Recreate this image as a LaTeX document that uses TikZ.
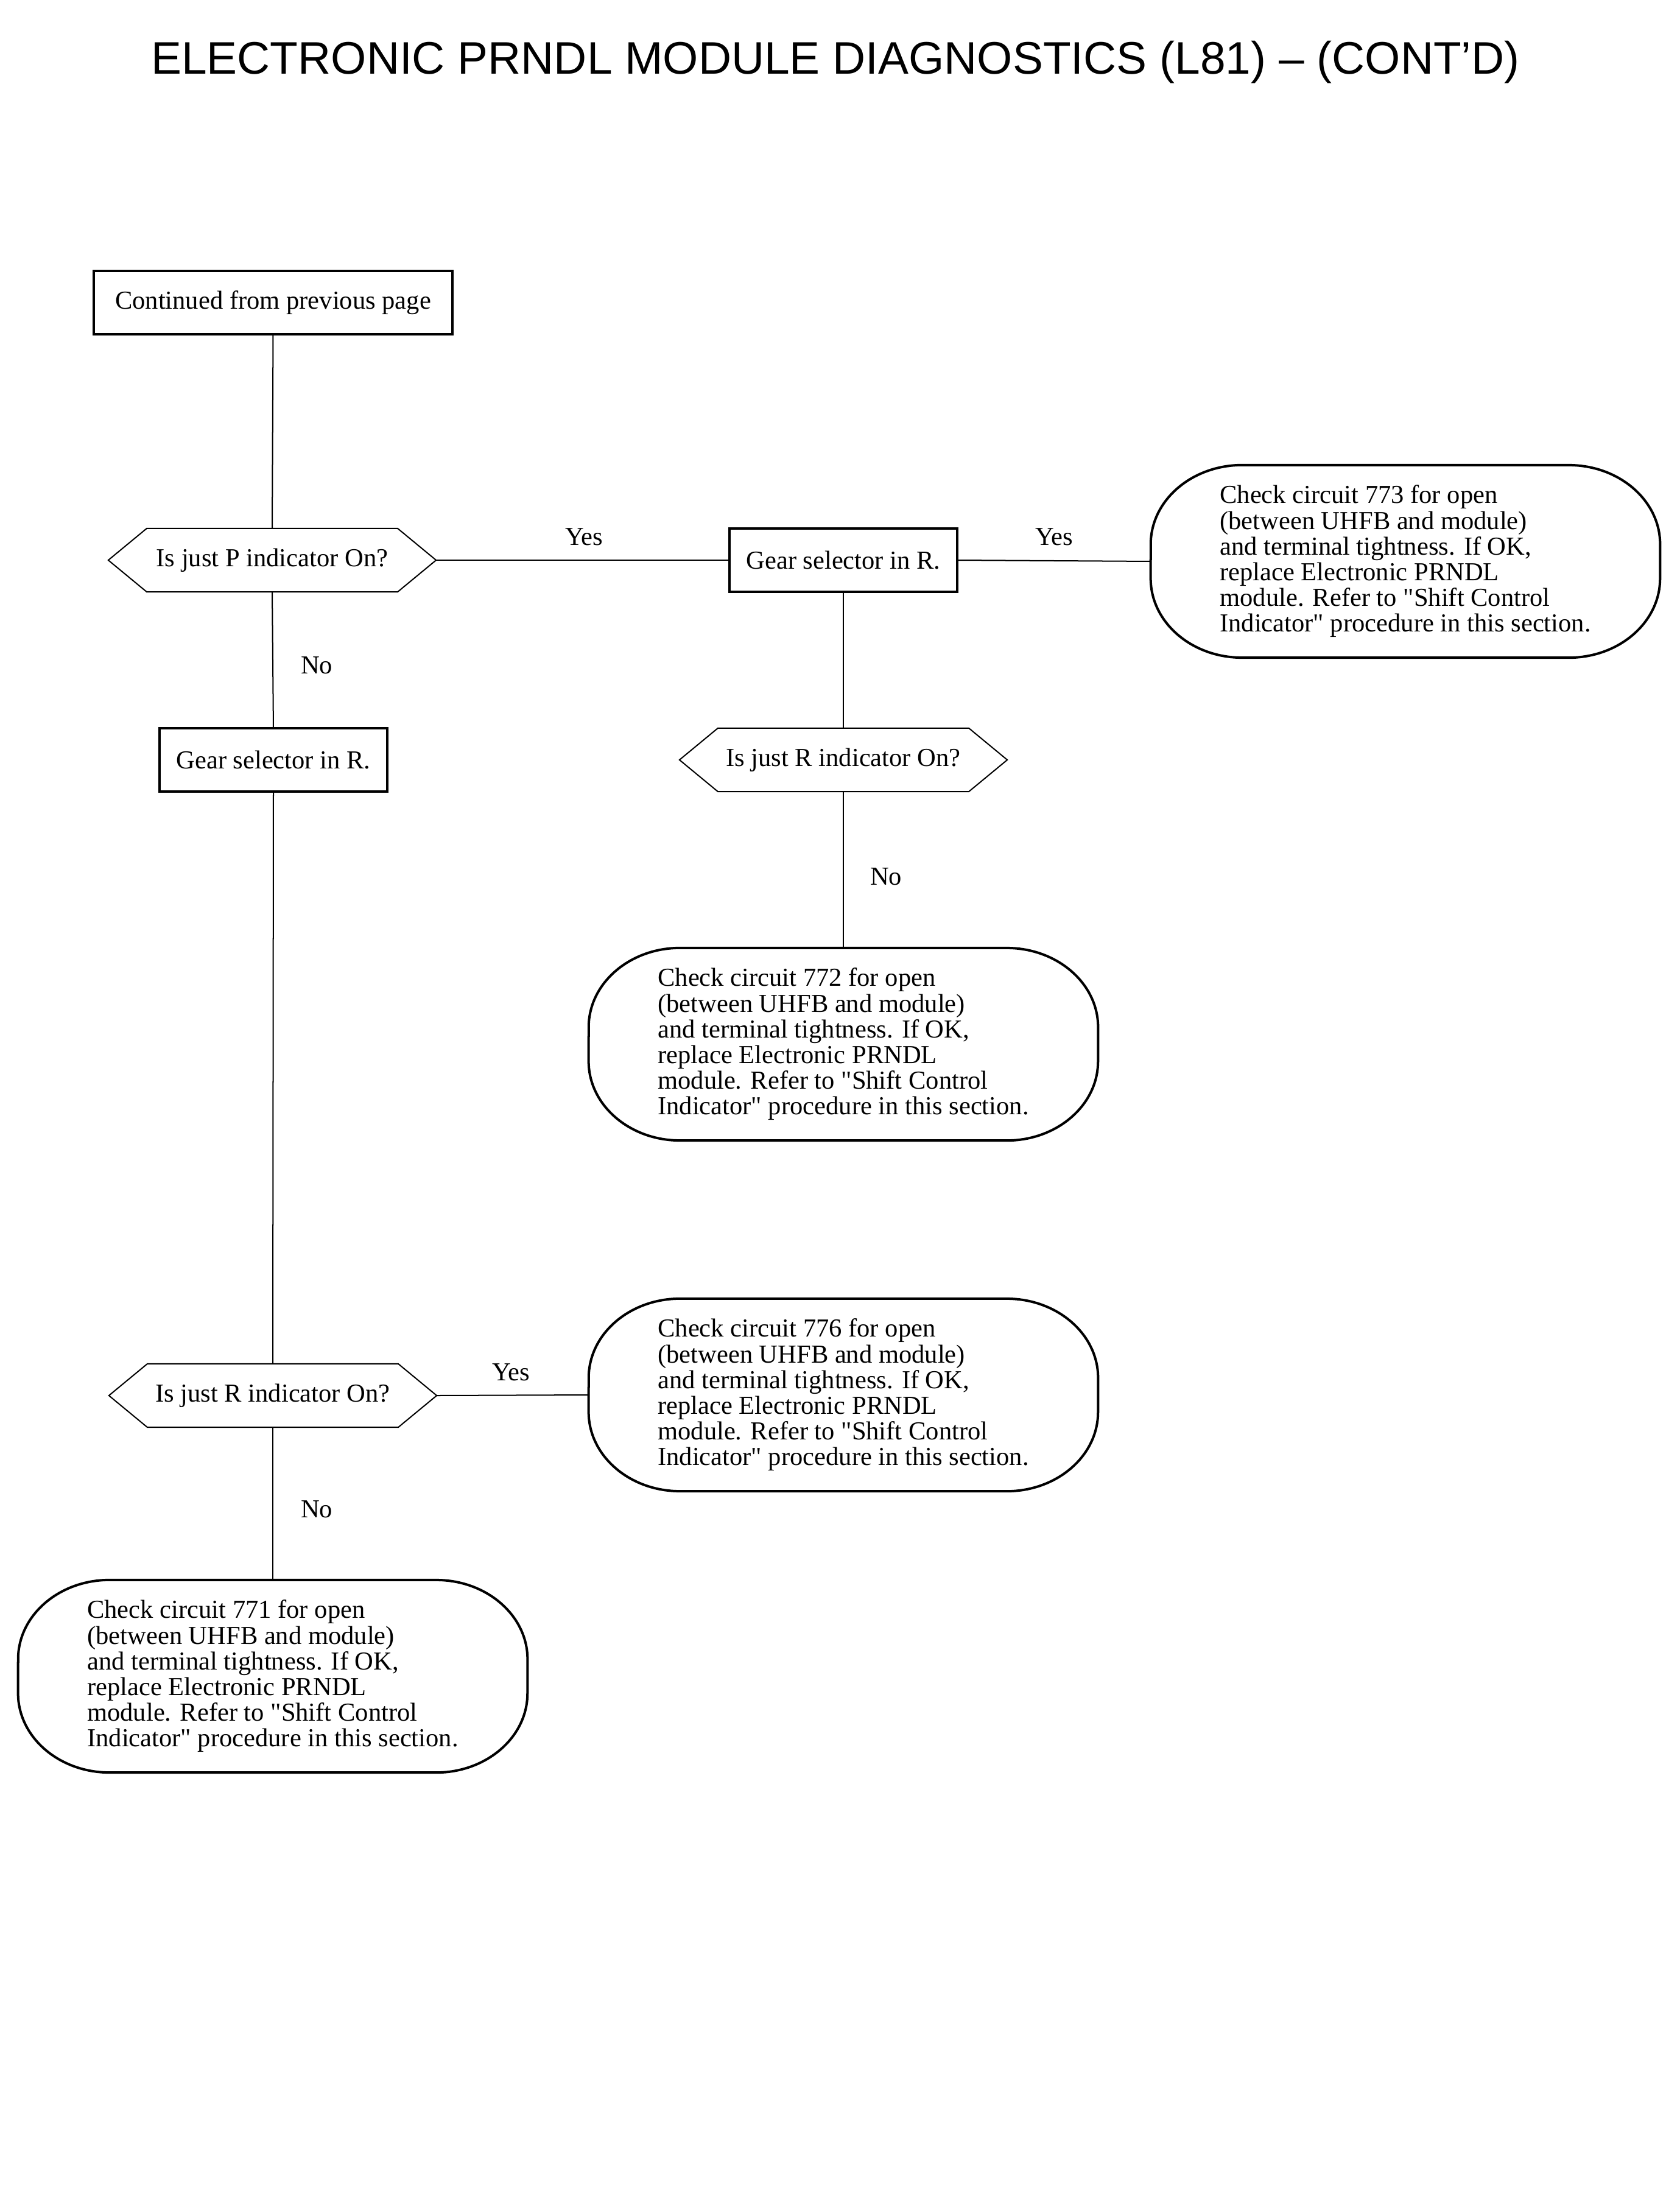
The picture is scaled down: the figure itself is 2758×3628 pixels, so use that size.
\documentclass[tikz,border=0pt]{standalone}
\usepackage{fontspec}
\setmainfont{Liberation Serif}[Ligatures=TeXOff]
\newfontfamily\titlefont{Liberation Sans}[Ligatures=TeXOff]
\usetikzlibrary{calc}
\newcommand{\bodyfnt}{\fontsize{12.1}{12}\selectfont}
\newcommand{\hexout}[1]{\draw[thinline] (#1.west) -- ($(#1.north west)+(63,0)$) -- ($(#1.north east)+(-63,0)$) -- (#1.east) -- ($(#1.south east)+(-63,0)$) -- ($(#1.south west)+(63,0)$) -- cycle;}
\newcommand{\termout}[1]{\draw[thickline] ($(#1.north west)+(150,0)$) -- ($(#1.north east)+(-150,0)$) arc[start angle=90,end angle=0,x radius=1.5cm,y radius=1.3cm] -- ($(#1.south east)+(0,130)$) arc[start angle=0,end angle=-90,x radius=1.5cm,y radius=1.3cm] -- ($(#1.south west)+(150,0)$) arc[start angle=270,end angle=180,x radius=1.5cm,y radius=1.3cm] -- ($(#1.north west)+(0,-130)$) arc[start angle=180,end angle=90,x radius=1.5cm,y radius=1.3cm] -- cycle;}
\begin{document}
\begin{tikzpicture}[x=0.01cm,y=0.01cm,
  thickline/.style={line width=0.04cm},
  thinline/.style={line width=0.02cm},
  conn/.style={line width=0.02cm},
  boxnode/.style={draw,thickline,inner sep=0,outer sep=0,minimum height=1.03cm,font=\bodyfnt},
  hexnode/.style={inner sep=0,outer sep=0,minimum width=5.38cm,minimum height=1.04cm,font=\bodyfnt},
  termnode/.style={inner sep=0,outer sep=0,minimum width=8.36cm,minimum height=3.16cm,align=left,font=\bodyfnt},
  lbl/.style={anchor=base,inner sep=0,font=\bodyfnt}]
\useasboundingbox (0,0) rectangle (2758,-3628);
\fill[white] (0,0) rectangle (2758,-3628);
\node[anchor=base,inner sep=0,font=\titlefont\fontsize{21.3}{24}\selectfont] (title) at (1372,-122) {ELECTRONIC PRNDL MODULE DIAGNOSTICS (L81) – (CONT’D)};
% nodes
\node[boxnode,minimum width=5.89cm,minimum height=1.04cm] (cont) at (448.5,-497) {Continued from previous page};
\node[hexnode] (h1) at (447,-920) {Is just P indicator On?};
\hexout{h1}
\node[boxnode,minimum width=3.74cm] (g2) at (1385,-920) {Gear selector in R.};
\node[termnode] (t773) at (2308,-922) {Check circuit 773 for open\\(between UHFB and module)\\and terminal tightness. If OK,\\replace Electronic PRNDL\\module. Refer to "Shift Control\\Indicator" procedure in this section.};
\termout{t773}
\node[boxnode,minimum width=3.74cm] (g1) at (449,-1248) {Gear selector in R.};
\node[hexnode] (h2) at (1385,-1248) {Is just R indicator On?};
\hexout{h2}
\node[termnode] (t772) at (1385,-1715) {Check circuit 772 for open\\(between UHFB and module)\\and terminal tightness. If OK,\\replace Electronic PRNDL\\module. Refer to "Shift Control\\Indicator" procedure in this section.};
\termout{t772}
\node[hexnode] (h3) at (448,-2292) {Is just R indicator On?};
\hexout{h3}
\node[termnode] (t776) at (1385,-2291) {Check circuit 776 for open\\(between UHFB and module)\\and terminal tightness. If OK,\\replace Electronic PRNDL\\module. Refer to "Shift Control\\Indicator" procedure in this section.};
\termout{t776}
\node[termnode] (t771) at (448,-2753) {Check circuit 771 for open\\(between UHFB and module)\\and terminal tightness. If OK,\\replace Electronic PRNDL\\module. Refer to "Shift Control\\Indicator" procedure in this section.};
\termout{t771}
% connectors
\draw[conn] (cont.south) -- (h1.north);
\draw[conn] (h1.east) -- (g2.west);
\draw[conn] (g2.east) -- (t773.west);
\draw[conn] (g2.south) -- (h2.north);
\draw[conn] (h2.south) -- (t772.north);
\draw[conn] (h1.south) -- (g1.north);
\draw[conn] (g1.south) -- (h3.north);
\draw[conn] (h3.east) -- (t776.west);
\draw[conn] (h3.south) -- (t771.north);
% labels
\node[lbl] (yes1) at (959,-896) {Yes};
\node[lbl] (yes2) at (1731,-896) {Yes};
\node[lbl] (no1) at (520,-1106) {No};
\node[lbl] (no2) at (1455,-1453) {No};
\node[lbl] (yes3) at (839,-2267) {Yes};
\node[lbl] (no3) at (520,-2492) {No};
\end{tikzpicture}
\end{document}
